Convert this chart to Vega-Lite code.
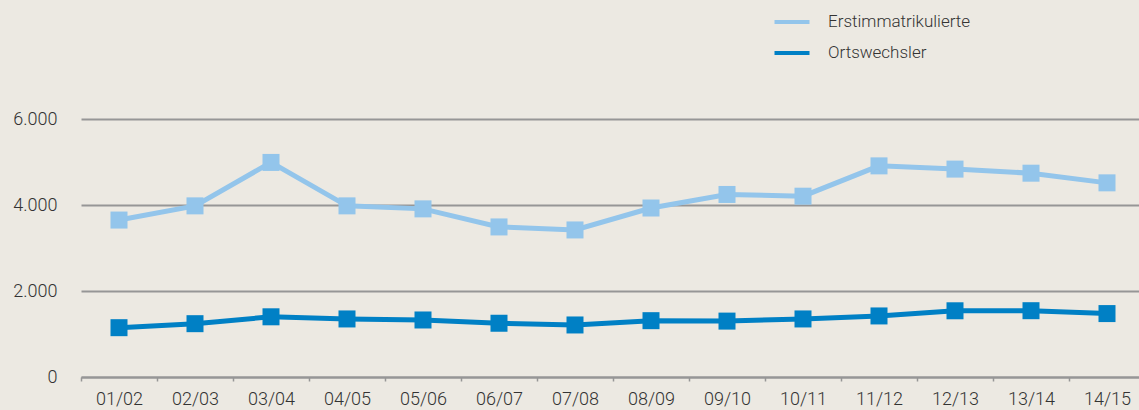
{
  "$schema": "https://vega.github.io/schema/vega-lite/v6.json",
  "autosize": "none",
  "width": 1058,
  "height": 258,
  "padding": {"left": 81, "top": 119, "right": 0, "bottom": 33},
  "background": "#ece9e2",
  "config": {
    "view": {"stroke": null},
    "font": "Roboto",
    "axis": {"labelFont": "Roboto", "labelFontWeight": 300, "labelColor": "#333333", "labelFontSize": 18},
    "legend": {"labelFont": "Roboto", "labelFontWeight": 300, "labelColor": "#333333", "labelFontSize": 17}
  },
  "data": {
    "values": [
      {"jahr": "01/02", "gruppe": "Erstimmatrikulierte", "wert": 3650},
      {"jahr": "02/03", "gruppe": "Erstimmatrikulierte", "wert": 3980},
      {"jahr": "03/04", "gruppe": "Erstimmatrikulierte", "wert": 4990},
      {"jahr": "04/05", "gruppe": "Erstimmatrikulierte", "wert": 3980},
      {"jahr": "05/06", "gruppe": "Erstimmatrikulierte", "wert": 3910},
      {"jahr": "06/07", "gruppe": "Erstimmatrikulierte", "wert": 3490},
      {"jahr": "07/08", "gruppe": "Erstimmatrikulierte", "wert": 3420},
      {"jahr": "08/09", "gruppe": "Erstimmatrikulierte", "wert": 3930},
      {"jahr": "09/10", "gruppe": "Erstimmatrikulierte", "wert": 4245},
      {"jahr": "10/11", "gruppe": "Erstimmatrikulierte", "wert": 4205},
      {"jahr": "11/12", "gruppe": "Erstimmatrikulierte", "wert": 4910},
      {"jahr": "12/13", "gruppe": "Erstimmatrikulierte", "wert": 4835},
      {"jahr": "13/14", "gruppe": "Erstimmatrikulierte", "wert": 4740},
      {"jahr": "14/15", "gruppe": "Erstimmatrikulierte", "wert": 4515},
      {"jahr": "01/02", "gruppe": "Ortswechsler", "wert": 1147},
      {"jahr": "02/03", "gruppe": "Ortswechsler", "wert": 1240},
      {"jahr": "03/04", "gruppe": "Ortswechsler", "wert": 1400},
      {"jahr": "04/05", "gruppe": "Ortswechsler", "wert": 1350},
      {"jahr": "05/06", "gruppe": "Ortswechsler", "wert": 1326},
      {"jahr": "06/07", "gruppe": "Ortswechsler", "wert": 1250},
      {"jahr": "07/08", "gruppe": "Ortswechsler", "wert": 1210},
      {"jahr": "08/09", "gruppe": "Ortswechsler", "wert": 1310},
      {"jahr": "09/10", "gruppe": "Ortswechsler", "wert": 1300},
      {"jahr": "10/11", "gruppe": "Ortswechsler", "wert": 1350},
      {"jahr": "11/12", "gruppe": "Ortswechsler", "wert": 1420},
      {"jahr": "12/13", "gruppe": "Ortswechsler", "wert": 1540},
      {"jahr": "13/14", "gruppe": "Ortswechsler", "wert": 1542},
      {"jahr": "14/15", "gruppe": "Ortswechsler", "wert": 1475}
    ]
  },
  "mark": {
    "type": "line",
    "strokeWidth": 5,
    "point": {"shape": "square", "size": 289, "filled": true, "opacity": 1}
  },
  "encoding": {
    "x": {
      "field": "jahr",
      "type": "ordinal",
      "scale": {"type": "band", "range": [0, 1064], "paddingInner": 0, "paddingOuter": 0},
      "axis": {
        "title": null,
        "labelAngle": 0,
        "domainColor": "#969696",
        "domainWidth": 2,
        "tickColor": "#969696",
        "tickWidth": 1.5,
        "tickSize": 4,
        "tickBand": "extent",
        "labelPadding": 9,
        "grid": false
      }
    },
    "y": {
      "field": "wert",
      "type": "quantitative",
      "scale": {"domain": [0, 6000], "nice": false},
      "axis": {
        "title": null,
        "values": [0, 2000, 4000, 6000],
        "labelExpr": "replace(format(datum.value, ','), ',', '.')",
        "domain": false,
        "ticks": false,
        "grid": true,
        "gridColor": "#969696",
        "gridWidth": 2,
        "labelPadding": 24
      }
    },
    "color": {
      "field": "gruppe",
      "type": "nominal",
      "scale": {"domain": ["Erstimmatrikulierte", "Ortswechsler"], "range": ["#93c5eb", "#0080c5"]},
      "legend": {
        "title": null,
        "orient": "none",
        "legendX": 702,
        "legendY": -106,
        "symbolType": "M-2.5,0H2.5",
        "symbolSize": 196,
        "symbolStrokeWidth": 4,
        "symbolFillColor": null,
        "labelOffset": 27,
        "rowPadding": 14,
        "padding": 0
      }
    }
  }
}
